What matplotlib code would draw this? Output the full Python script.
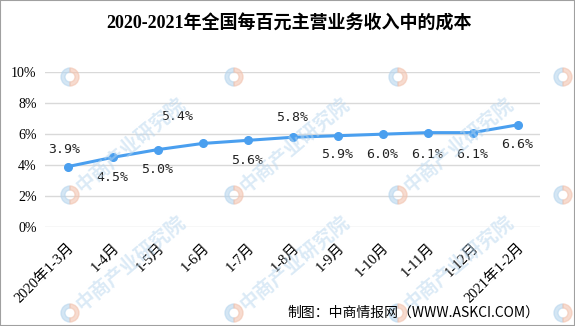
import matplotlib
matplotlib.use("Agg")
import matplotlib.pyplot as plt
from matplotlib.patches import Rectangle, Wedge
from matplotlib.ticker import FuncFormatter

categories = ["2020年1-3月", "1-4月", "1-5月", "1-6月", "1-7月", "1-8月",
              "1-9月", "1-10月", "1-11月", "1-12月", "2021年1-2月"]
values = [3.9, 4.5, 5.0, 5.4, 5.6, 5.8, 5.9, 6.0, 6.1, 6.1, 6.6]
y_ticks = [0, 2, 4, 6, 8, 10]
title = "2020-2021年全国每百元主营业务收入中的成本"
source = "制图：中商情报网（WWW.ASKCI.COM）"

# label offsets in pixels (dx, dy up)
label_offsets = [(-3, 17), (0, -20), (0, -20), (-25, 27), (0, -20), (0, 20),
                 (0, -19), (0, -20), (0, -22), (0, -22), (0, -20)]

W, H = 575, 326
fig = plt.figure(figsize=(W / 100, H / 100), dpi=100)
fig.patch.set_facecolor("white")

ax = fig.add_axes([45 / W, (H - 227) / H, (540 - 45) / W, (227 - 72.3) / H])
ax.set_facecolor("none")
x = list(range(len(categories)))
line_color = "#4A9FEF"
ax.plot(x, values, color=line_color, lw=2.2, marker="o", ms=5.5,
        markerfacecolor=line_color, markeredgecolor=line_color, zorder=3)

ax.set_xlim(-0.5, len(categories) - 0.5)
ax.set_ylim(0, 10)
ax.set_yticks(y_ticks)
ax.yaxis.set_major_formatter(FuncFormatter(lambda v, p: f"{int(v)}%"))
ax.grid(axis="y", color="#D9D9D9", lw=1)
ax.set_axisbelow(True)
for s in ax.spines.values():
    s.set_visible(False)
ax.tick_params(axis="both", length=0)
ax.tick_params(axis="y", pad=6)
for lab in ax.get_yticklabels():
    lab.set_fontfamily(["Liberation Serif", "Noto Sans CJK SC"])
    lab.set_fontsize(10)

ax.set_xticks(x)
ax.set_xticklabels(categories, rotation=45, ha="right", va="top",
                   rotation_mode="anchor",
                   fontfamily=["Liberation Serif", "Noto Sans CJK SC"],
                   fontsize=10.5)
ax.tick_params(axis="x", pad=10)

for xi, v, (dx, dy) in zip(x, values, label_offsets):
    ax.annotate(f"{v:.1f}%", (xi, v), xytext=(dx, dy), textcoords="offset pixels",
                ha="center", va="center", fontfamily="DejaVu Sans Mono",
                fontsize=9.5, color="#222222", zorder=4)

fig.text(289 / W, 1 - 24 / H, title, ha="center", va="center",
         fontfamily=["Liberation Serif", "Noto Sans CJK SC"],
         fontweight="bold", fontsize=13, color="black")

fig.text(539 / W, 1 - 313 / H, source, ha="right", va="center",
         fontfamily=["Noto Sans CJK SC", "DejaVu Sans"], fontsize=10,
         color="black")

# watermark
wm_cols = [-94, 70, 234, 398, 563]
wm_rows = [77, 195, 313]
for cx in wm_cols:
    for cy in wm_rows:
        if 0 < cx < 500 and cy > 100:
            fig.text((cx + 60) / W, 1 - (cy - 50) / H, "中商产业研究院",
                     rotation=40, ha="center", va="center",
                     fontfamily=["Noto Sans CJK SC"], fontsize=14,
                     fontweight="bold", color="#B8D6EE", alpha=0.5, zorder=0)
        r = 9
        fig.patches.append(Wedge((cx, H - cy), r, 90, 270, width=4,
                                 transform=None, color="#B8D6EE", alpha=0.6))
        fig.patches.append(Wedge((cx, H - cy), r, -90, 90, width=4,
                                 transform=None, color="#F2C4B0", alpha=0.6))

fig.patches.append(Rectangle((0, 0), 1, 1, transform=fig.transFigure,
                             fill=False, edgecolor="#A0A0A0", lw=1.5))

fig.savefig("out.png", dpi=100)
